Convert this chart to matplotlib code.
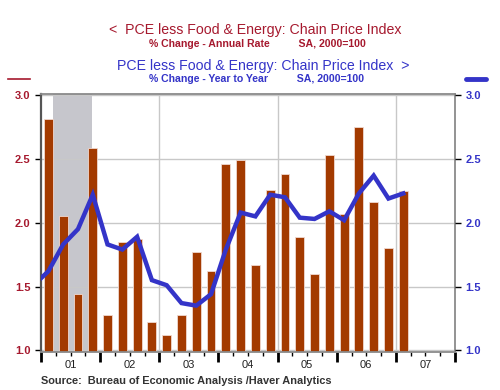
import matplotlib.pyplot as plt
from matplotlib.lines import Line2D

plt.rcParams['font.family'] = ['Liberation Sans', 'DejaVu Sans']

RED = '#a6192e'
BLUE = '#3434c8'
BAR = '#a33a00'

# quarterly % change, annual rate (2001Q1 .. 2007Q1)
bar_quarters = ['2001Q1', '2001Q2', '2001Q3', '2001Q4',
                '2002Q1', '2002Q2', '2002Q3', '2002Q4',
                '2003Q1', '2003Q2', '2003Q3', '2003Q4',
                '2004Q1', '2004Q2', '2004Q3', '2004Q4',
                '2005Q1', '2005Q2', '2005Q3', '2005Q4',
                '2006Q1', '2006Q2', '2006Q3', '2006Q4',
                '2007Q1']
ann_rate = [2.81, 2.05, 1.44, 2.59,
            1.28, 1.85, 1.87, 1.22,
            1.12, 1.28, 1.77, 1.62,
            2.46, 2.49, 1.67, 2.26,
            2.38, 1.89, 1.60, 2.53,
            2.07, 2.75, 2.16, 1.80,
            2.25]

# year over year % change (2000Q4 .. 2007Q1)
line_quarters = ['2000Q4'] + bar_quarters
yoy = [1.51,
       1.62, 1.83, 1.95, 2.22,
       1.83, 1.79, 1.89, 1.55,
       1.51, 1.37, 1.35, 1.44,
       1.79, 2.08, 2.05, 2.22,
       2.20, 2.04, 2.03, 2.09,
       2.02, 2.23, 2.37, 2.19,
       2.23]

years = ['01', '02', '03', '04', '05', '06', '07']
recession = (2001.2, 2001.87)


def qpos(q):
    """quarter label -> position in fractional years (mid quarter)"""
    return int(q[:4]) + (int(q[5]) - 0.5) / 4


fig = plt.figure(figsize=(5, 3.9), dpi=100)
ax = fig.add_axes([0.082, 0.097, 0.828, 0.662])

ax.axvspan(*recession, color='#c6c6cc', zorder=0, lw=0)
ax.bar([qpos(q) for q in bar_quarters], ann_rate, bottom=0, width=0.15,
       color=BAR, edgecolor='#f0d8d0', linewidth=0.6, zorder=2)

ax.set_xlim(2001, 2008)
ax.set_ylim(0.985, 3.01)
ax.set_yticks([1.0, 1.5, 2.0, 2.5, 3.0])
ax.set_yticklabels(['%.1f' % v for v in [1.0, 1.5, 2.0, 2.5, 3.0]])
ax.tick_params(axis='y', colors='black', labelsize=8, length=4, width=1,
               labelcolor=RED)
for lab in ax.get_yticklabels():
    lab.set_fontweight('bold')

ax.set_xticks(range(2001, 2009))
ax.set_xticklabels([])
ax.set_xticks([y + q / 4 for y in range(2001, 2008) for q in (1, 2, 3)],
              minor=True)
ax.tick_params(axis='x', which='major', length=7, width=2, color='black')
ax.tick_params(axis='x', which='minor', length=3, width=1, color='black')
for i, yr in enumerate(years):
    ax.text(2001.5 + i, -0.03, yr, transform=ax.get_xaxis_transform(),
            ha='center', va='top', fontsize=8, color='#222222')

ax.grid(axis='y', color='#c8c8c8', lw=1)
for x in (2003, 2005, 2007):
    ax.axvline(x, color='#c8c8c8', lw=1, zorder=1)
ax.set_axisbelow(True)

for s in ax.spines.values():
    s.set_color('#8a8a8a')
    s.set_linewidth(1.3)
ax.spines['left'].set_color('#555555')
ax.spines['left'].set_linewidth(1.6)

ax2 = ax.twinx()
ax2.plot([qpos(q) for q in line_quarters], yoy, color=BLUE, lw=3.2,
         solid_joinstyle='miter', zorder=3)
ax2.set_xlim(2001, 2008)
ax2.set_ylim(0.985, 3.01)
ax2.set_yticks([1.0, 1.5, 2.0, 2.5, 3.0])
ax2.set_yticklabels(['%.1f' % v for v in [1.0, 1.5, 2.0, 2.5, 3.0]])
ax2.tick_params(axis='y', colors='black', labelcolor=BLUE, labelsize=8,
                length=4, width=1)
for lab in ax2.get_yticklabels():
    lab.set_fontweight('bold')
for s in ax2.spines.values():
    s.set_visible(False)

# titles
fig.text(0.51, 0.922, '<  PCE less Food & Energy: Chain Price Index',
         ha='center', va='center', color=RED, fontsize=10.2)
fig.text(0.515, 0.888, '% Change - Annual Rate          SA, 2000=100',
         ha='center', va='center', color=RED, fontsize=7.6, fontweight='bold')
fig.text(0.527, 0.832, 'PCE less Food & Energy: Chain Price Index  >',
         ha='center', va='center', color=BLUE, fontsize=10.2)
fig.text(0.514, 0.797, '% Change - Year to Year          SA, 2000=100',
         ha='center', va='center', color=BLUE, fontsize=7.6, fontweight='bold')

fig.add_artist(Line2D([0.016, 0.06], [0.797, 0.797], color=RED, lw=1.2,
                      transform=fig.transFigure))
fig.add_artist(Line2D([0.932, 0.972], [0.797, 0.797], color=BLUE, lw=3.5,
                      solid_capstyle='round', transform=fig.transFigure))

fig.text(0.082, 0.022, 'Source:  Bureau of Economic Analysis /Haver Analytics',
         ha='left', va='center', color='#333333', fontsize=7.9,
         fontweight='bold')

fig.savefig('out.png', dpi=100)
